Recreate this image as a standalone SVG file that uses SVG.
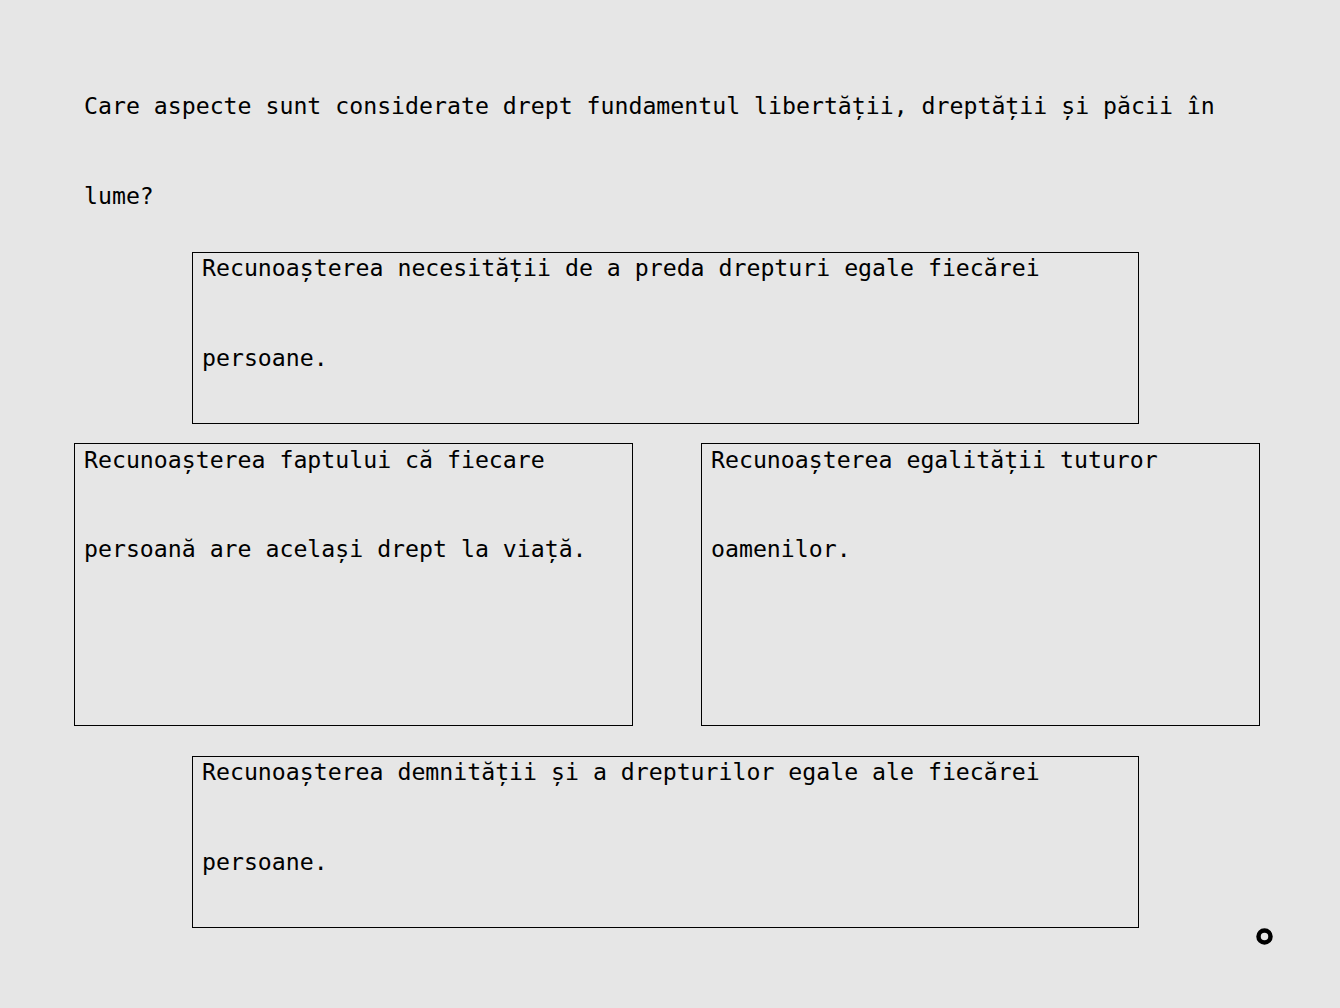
<svg xmlns="http://www.w3.org/2000/svg" width="1340" height="1008" viewBox="0 0 1340 1008">
<style>
.t{font-family:"DejaVu Sans Mono","Liberation Mono",monospace;font-size:23.2px;fill:#000;}
.b{fill:none;stroke:#000;stroke-width:1;}
</style>
<rect width="1340" height="1008" fill="#e6e6e6"/>
<g id="title">
<text class="t" x="84" y="114">Care aspecte sunt considerate drept fundamentul libertății, dreptății și păcii în</text>
<text class="t" x="84" y="204">lume?</text>
</g>
<g id="node1">
<rect class="b" x="192.5" y="252.5" width="946" height="171"/>
<text class="t" x="202" y="276">Recunoașterea necesității de a preda drepturi egale fiecărei</text>
<text class="t" x="202" y="366">persoane.</text>
</g>
<g id="node2">
<rect class="b" x="74.5" y="443.5" width="558" height="282"/>
<text class="t" x="84" y="468">Recunoașterea faptului că fiecare</text>
<text class="t" x="84" y="557">persoană are același drept la viață.</text>
</g>
<g id="node3">
<rect class="b" x="701.5" y="443.5" width="558" height="282"/>
<text class="t" x="711" y="468">Recunoașterea egalității tuturor</text>
<text class="t" x="711" y="557">oamenilor.</text>
</g>
<g id="node4">
<rect class="b" x="192.5" y="756.5" width="946" height="171"/>
<text class="t" x="202" y="780">Recunoașterea demnității și a drepturilor egale ale fiecărei</text>
<text class="t" x="202" y="870">persoane.</text>
</g>
<g id="connectors"></g>
<circle cx="1264.5" cy="936.5" r="6" fill="none" stroke="#000" stroke-width="4.5"/>
</svg>
